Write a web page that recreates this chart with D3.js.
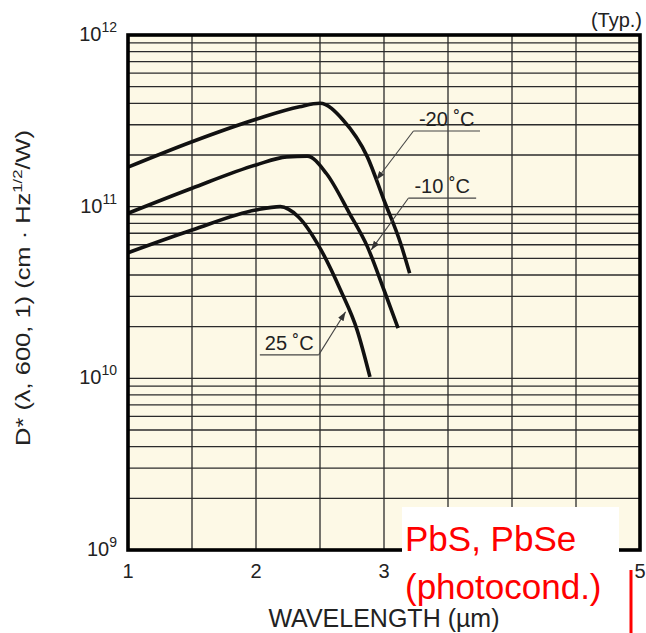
<!DOCTYPE html>
<html>
<head>
<meta charset="utf-8">
<script src="https://cdn.jsdelivr.net/npm/d3@7"></script>
<style>
  body { margin: 0; background: #fff; }
  text { font-family: "Liberation Sans", Arial, sans-serif; fill: #222; }
</style>
</head>
<body>
<svg id="chart" width="646" height="633"></svg>
<script>
// values (wavelength in um, D* in cm*Hz^1/2/W)
var wlMinus20 = [1.0, 1.5, 2.0, 2.34, 2.5, 2.68, 2.87, 3.0, 3.13, 3.2];
var dMinus20  = [1.7e11, 2.39e11, 3.23e11, 3.82e11, 4.0e11, 3.2e11, 1.95e11, 1.09e11, 6.1e10, 4.1e10];

var wlMinus10 = [1.0, 1.5, 2.0, 2.24, 2.4, 2.55, 2.73, 2.87, 3.0, 3.11];
var dMinus10  = [9.15e10, 1.28e11, 1.75e11, 1.95e11, 1.97e11, 1.56e11, 9.15e10, 5.85e10, 3.27e10, 1.96e10];

var wl25 = [1.0, 1.5, 2.0, 2.19, 2.33, 2.5, 2.66, 2.79, 2.89];
var d25  = [5.39e10, 7.31e10, 9.57e10, 1.0e11, 8.74e10, 5.74e10, 3.27e10, 1.91e10, 1.02e10];

// "4" sits under the white note box in the reference, so it is not shown
var xTicks = [1, 2, 3, 5];
var yTicks = [1e9, 1e10, 1e11, 1e12];
var yExp = ["9", "10", "11", "12"];

// labels: text, underline start/end (x), underline y, arrow tip
var labelNames = ["-20 \u02daC", "-10 \u02daC", "25 \u02daC"];
var labelX0 = [3.23, 3.19, 2.03];
var labelX1 = [3.75, 3.72, 2.49];
var labelY  = [2.76e11, 1.12e11, 1.37e10];
var tipX    = [2.94, 2.90, 2.70];
var tipY    = [1.43e11, 5.6e10, 2.44e10];
var fromEnd = [0, 0, 1];  // which end of the underline the leader starts at

var margin = {top: 35, right: 6, bottom: 83, left: 128};
var W = 646, H = 633;
var width = W - margin.left - margin.right;
var height = H - margin.top - margin.bottom;

var svg = d3.select("#chart");
var g = svg.append("g").attr("transform", "translate(" + margin.left + "," + margin.top + ")");

var x = d3.scaleLinear().domain([1, 5]).range([0, width]);
var y = d3.scaleLog().domain([1e9, 1e12]).range([height, 0]);

g.append("rect")
  .attr("width", width)
  .attr("height", height)
  .attr("fill", "#fdf9e6");

// grid
var xGrid = d3.range(1.5, 5, 0.5);
g.selectAll(".vgrid").data(xGrid).enter().append("line")
  .attr("x1", d => x(d)).attr("x2", d => x(d))
  .attr("y1", 0).attr("y2", height)
  .attr("stroke", "#2b2b2b").attr("stroke-width", 1.3);

var yGrid = [];
[1e9, 1e10, 1e11].forEach(function(dec) {
  for (var k = 1; k <= 9; k++) { if (dec * k > 1e9) yGrid.push(dec * k); }
});
g.selectAll(".hgrid").data(yGrid).enter().append("line")
  .attr("x1", 0).attr("x2", width)
  .attr("y1", d => y(d)).attr("y2", d => y(d))
  .attr("stroke", "#2b2b2b").attr("stroke-width", 1.3);

// curves
var line = d3.line()
  .x(d => x(d[0]))
  .y(d => y(d[1]))
  .curve(d3.curveMonotoneX);

var series = [
  d3.zip(wlMinus20, dMinus20),
  d3.zip(wlMinus10, dMinus10),
  d3.zip(wl25, d25)
];
g.selectAll(".curve").data(series).enter().append("path")
  .attr("d", line)
  .attr("fill", "none")
  .attr("stroke", "#111")
  .attr("stroke-width", 3.6);

// frame
g.append("rect")
  .attr("width", width)
  .attr("height", height)
  .attr("fill", "none")
  .attr("stroke", "#000")
  .attr("stroke-width", 3.6);

// leader lines + labels
svg.append("defs").append("marker")
  .attr("id", "arrow")
  .attr("viewBox", "0 0 10 10")
  .attr("refX", 10).attr("refY", 5)
  .attr("markerWidth", 9).attr("markerHeight", 9)
  .attr("markerUnits", "userSpaceOnUse")
  .attr("orient", "auto")
  .append("path").attr("d", "M0,1.5L10,5L0,8.5z").attr("fill", "#333");

labelNames.forEach(function(name, i) {
  var ly = y(labelY[i]);
  g.append("line")
    .attr("x1", x(labelX0[i])).attr("x2", x(labelX1[i]))
    .attr("y1", ly).attr("y2", ly)
    .attr("stroke", "#444").attr("stroke-width", 1.2);
  var sx = fromEnd[i] ? x(labelX1[i]) : x(labelX0[i]);
  g.append("line")
    .attr("x1", sx).attr("y1", ly)
    .attr("x2", x(tipX[i])).attr("y2", y(tipY[i]))
    .attr("stroke", "#444").attr("stroke-width", 1.1)
    .attr("marker-end", "url(#arrow)");
  g.append("text")
    .attr("x", (x(labelX0[i]) + x(labelX1[i])) / 2)
    .attr("y", ly - 5)
    .attr("text-anchor", "middle")
    .style("font-size", "20px")
    .text(name);
});

// x tick labels
g.selectAll(".xt").data(xTicks).enter().append("text")
  .attr("x", d => x(d))
  .attr("y", height + 28)
  .attr("text-anchor", "middle")
  .style("font-size", "20px")
  .text(d => d);

// y tick labels
yTicks.forEach(function(v, i) {
  var t = g.append("text")
    .attr("x", -11)
    .attr("y", y(v) + 6)
    .attr("text-anchor", "end")
    .style("font-size", "20px");
  t.append("tspan").text("10");
  t.append("tspan").attr("dy", -9).style("font-size", "14px").text(yExp[i]);
});

// red note box (covers the bottom right of the frame)
svg.append("rect")
  .attr("x", 402).attr("y", 507)
  .attr("width", 217).attr("height", 126)
  .attr("fill", "#fff");
svg.append("text")
  .attr("x", 405).attr("y", 551)
  .style("font-size", "35px")
  .style("fill", "#ff0000")
  .text("PbS, PbSe");
svg.append("text")
  .attr("x", 405).attr("y", 599)
  .style("font-size", "35px")
  .style("fill", "#ff0000")
  .text("(photocond.)");
svg.append("line")
  .attr("x1", 631).attr("x2", 631)
  .attr("y1", 570).attr("y2", 633)
  .attr("stroke", "#ff0000").attr("stroke-width", 3);

// axis titles
svg.append("text")
  .attr("x", 384).attr("y", 627)
  .attr("text-anchor", "middle")
  .style("font-size", "25px")
  .text("WAVELENGTH (\u00b5m)");

var yt = svg.append("text")
  .attr("transform", "translate(30,288) rotate(-90)")
  .attr("text-anchor", "middle")
  .attr("textLength", 316)
  .attr("lengthAdjust", "spacingAndGlyphs")
  .style("font-size", "20px");
yt.append("tspan").text("D* (\u03bb, 600, 1) (cm \u00b7 Hz");
yt.append("tspan").attr("dy", -8).style("font-size", "13px").text("1/2");
yt.append("tspan").attr("dy", 8).text("/W)");

svg.append("text")
  .attr("x", 642).attr("y", 27)
  .attr("text-anchor", "end")
  .style("font-size", "20px")
  .text("(Typ.)");
</script>
</body>
</html>
